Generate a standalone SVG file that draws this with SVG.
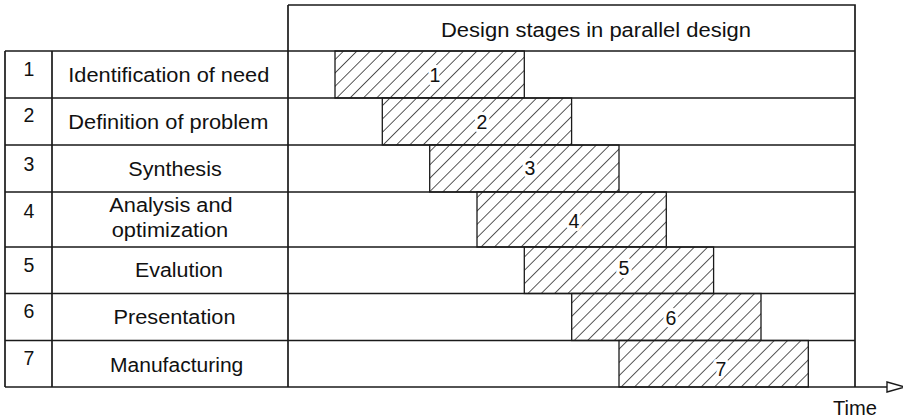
<svg xmlns="http://www.w3.org/2000/svg" width="903" height="420" viewBox="0 0 903 420">
  <style>
    .grid { stroke: #1a1a1a; stroke-width: 1.7; fill: none; }
    .bar { fill: url(#hatch); stroke: #1a1a1a; stroke-width: 1.3; }
    .txt { font-family: "Liberation Sans", Arial, sans-serif; font-size: 19.5px; fill: #111; }
    .num { text-anchor: middle; }
    .barnum { text-anchor: middle; stroke: #fff; stroke-width: 6; paint-order: stroke; stroke-linejoin: round; }
    .axis { stroke: #1a1a1a; stroke-width: 1.6; fill: none; }
    .head { fill: #fff; stroke: #1a1a1a; stroke-width: 1.4; stroke-linejoin: miter; }
  </style>
  <defs>
    <!-- diagonal hatching for the stage bars -->
    <pattern id="hatch" patternUnits="userSpaceOnUse" width="9.43" height="10" patternTransform="translate(343,51) rotate(45)">
      <rect width="9.43" height="10" fill="#fff"/>
      <line x1="0" y1="-1" x2="0" y2="11" stroke="#111" stroke-width="1.4"/>
    </pattern>
  </defs>

  <rect width="903" height="420" fill="#fff"/>

  <!-- stage rows -->
  <g id="stage-1">
    <rect class="bar" x="335" y="51" width="189.3" height="47"/>
    <text class="txt num" x="29" y="75.5">1</text>
    <text class="txt" x="68.3" y="82" textLength="201" lengthAdjust="spacingAndGlyphs">Identification of need</text>
    <text class="txt barnum" x="435" y="82">1</text>
  </g>
  <g id="stage-2">
    <rect class="bar" x="382.3" y="98" width="189.3" height="47"/>
    <text class="txt num" x="29" y="122">2</text>
    <text class="txt" x="68.3" y="129" textLength="200" lengthAdjust="spacingAndGlyphs">Definition of problem</text>
    <text class="txt barnum" x="482" y="128.5">2</text>
  </g>
  <g id="stage-3">
    <rect class="bar" x="429.7" y="145" width="189.3" height="47"/>
    <text class="txt num" x="29" y="171">3</text>
    <text class="txt" x="128.3" y="176" textLength="93.4" lengthAdjust="spacingAndGlyphs">Synthesis</text>
    <text class="txt barnum" x="530" y="175">3</text>
  </g>
  <g id="stage-4">
    <rect class="bar" x="477" y="192" width="189.3" height="55"/>
    <text class="txt num" x="29" y="218">4</text>
    <text class="txt" x="109.3" y="211.7" textLength="123.4" lengthAdjust="spacingAndGlyphs">Analysis and</text>
    <text class="txt" x="111.7" y="237" textLength="116.6" lengthAdjust="spacingAndGlyphs">optimization</text>
    <text class="txt barnum" x="574" y="228">4</text>
  </g>
  <g id="stage-5">
    <rect class="bar" x="524.3" y="247" width="189.3" height="46.5"/>
    <text class="txt num" x="29" y="271.5">5</text>
    <text class="txt" x="135" y="276.7" textLength="88" lengthAdjust="spacingAndGlyphs">Evalution</text>
    <text class="txt barnum" x="624" y="275">5</text>
  </g>
  <g id="stage-6">
    <rect class="bar" x="571.7" y="293.5" width="189.3" height="47"/>
    <text class="txt num" x="29" y="318">6</text>
    <text class="txt" x="113.5" y="324" textLength="122" lengthAdjust="spacingAndGlyphs">Presentation</text>
    <text class="txt barnum" x="671" y="325">6</text>
  </g>
  <g id="stage-7">
    <rect class="bar" x="619" y="340.5" width="189.3" height="46.5"/>
    <text class="txt num" x="29" y="365">7</text>
    <text class="txt" x="110" y="371.5" textLength="133.3" lengthAdjust="spacingAndGlyphs">Manufacturing</text>
    <text class="txt barnum" x="721" y="376">7</text>
  </g>

  <!-- table frame and header -->
  <g id="table">
    <path class="grid" d="M288 5 H855 V387 M288 5 V387 M5 51 V387 M52 51 V387
      M5 51 H855 M5 98 H855 M5 145 H855 M5 192 H855 M5 247 H855 M5 293.5 H855 M5 340.5 H855"/>
    <text class="txt" x="441" y="36.7" textLength="310" lengthAdjust="spacingAndGlyphs">Design stages in parallel design</text>
  </g>

  <!-- time axis -->
  <g id="connectors">
    <path class="axis" d="M5 387 H887"/>
    <polygon class="head" points="887,382 887,392 905,387"/>
    <text class="txt" x="833" y="415" textLength="44" lengthAdjust="spacingAndGlyphs">Time</text>
  </g>
</svg>
